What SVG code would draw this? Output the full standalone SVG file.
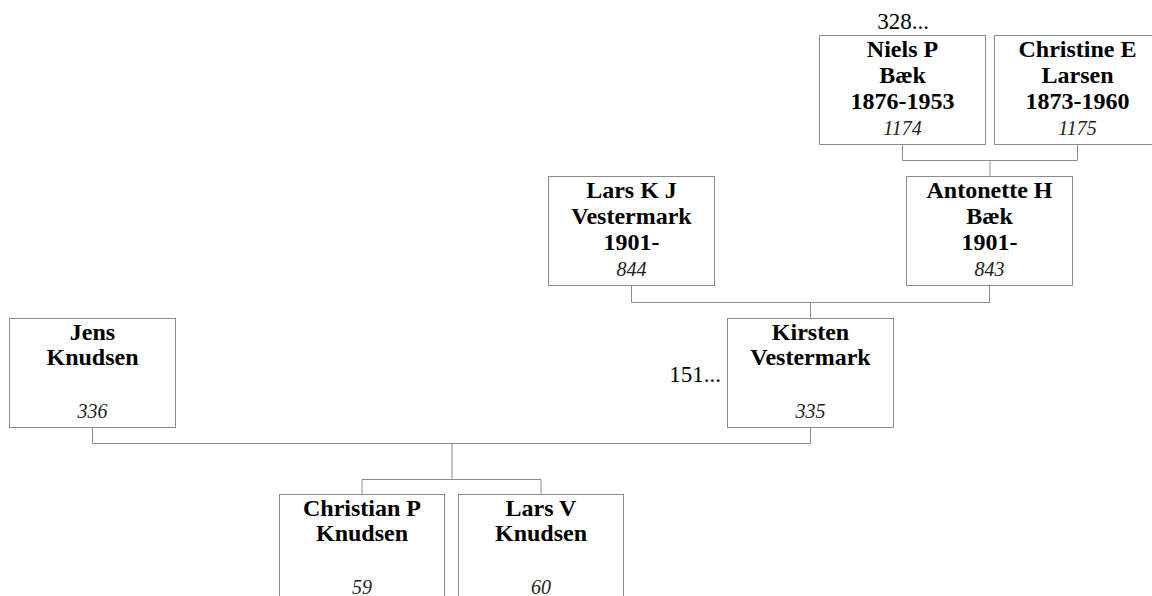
<svg xmlns="http://www.w3.org/2000/svg" width="1152" height="596" viewBox="0 0 1152 596">
<style>
.box{fill:#fff;stroke:#8c8c8c;stroke-width:1}
.con{fill:none;stroke:#8c8c8c;stroke-width:1}
.n{font-family:"Liberation Serif","Times New Roman",serif;font-weight:bold;font-size:24px;text-anchor:middle;fill:#000}
.id{font-family:"Liberation Serif","Times New Roman",serif;font-style:italic;font-size:20px;text-anchor:middle;fill:#222}
.ref{font-family:"Liberation Serif","Times New Roman",serif;font-size:23px;fill:#000}
</style>
<rect width="1152" height="596" fill="#fff"/>
<g id="connectors">
<path class="con" d="M902.5,144.5 V160.5 H1077.5 V144.5 M990,160.5 V176.5"/>
<path class="con" d="M631.5,285.5 V302.5 H989.5 V285.5 M810.5,302.5 V318.5"/>
<path class="con" d="M92.5,427.5 V443.5 H810.5 V427.5 M452,443.5 V479.5"/>
<path class="con" d="M362,494.5 V479.5 H541 V494.5"/>
</g>
<g id="niels">
<rect class="box" x="819.5" y="35.5" width="166" height="109"/>
<text class="ref" x="903" y="29" text-anchor="middle">328...</text>
<text class="n" x="902.5" y="57">Niels P</text>
<text class="n" x="902.5" y="83">Bæk</text>
<text class="n" x="902.5" y="109">1876-1953</text>
<text class="id" x="902.5" y="135">1174</text>
</g>
<g id="christine">
<rect class="box" x="994.5" y="35.5" width="166" height="109"/>
<text class="n" x="1077.5" y="57">Christine E</text>
<text class="n" x="1077.5" y="83">Larsen</text>
<text class="n" x="1077.5" y="109">1873-1960</text>
<text class="id" x="1077.5" y="135">1175</text>
</g>
<g id="larskj">
<rect class="box" x="548.5" y="176.5" width="166" height="109"/>
<text class="n" x="631.5" y="197.5">Lars K J</text>
<text class="n" x="631.5" y="223.5">Vestermark</text>
<text class="n" x="631.5" y="249.5">1901-</text>
<text class="id" x="631.5" y="275.5">844</text>
</g>
<g id="antonette">
<rect class="box" x="906.5" y="176.5" width="166" height="109"/>
<text class="n" x="989.5" y="197.5">Antonette H</text>
<text class="n" x="989.5" y="223.5">Bæk</text>
<text class="n" x="989.5" y="249.5">1901-</text>
<text class="id" x="989.5" y="275.5">843</text>
</g>
<g id="jens">
<rect class="box" x="9.5" y="318.5" width="166" height="109"/>
<text class="n" x="92.5" y="339.5">Jens</text>
<text class="n" x="92.5" y="365">Knudsen</text>
<text class="id" x="92.5" y="418">336</text>
</g>
<g id="kirsten">
<rect class="box" x="727.5" y="318.5" width="166" height="109"/>
<text class="ref" x="721" y="382" text-anchor="end">151...</text>
<text class="n" x="810.5" y="339.5">Kirsten</text>
<text class="n" x="810.5" y="365">Vestermark</text>
<text class="id" x="810.5" y="418">335</text>
</g>
<g id="christian">
<rect class="box" x="279.5" y="494.5" width="165" height="109"/>
<text class="n" x="362" y="515.5">Christian P</text>
<text class="n" x="362" y="541">Knudsen</text>
<text class="id" x="362" y="594">59</text>
</g>
<g id="larsv">
<rect class="box" x="458.5" y="494.5" width="165" height="109"/>
<text class="n" x="541" y="515.5">Lars V</text>
<text class="n" x="541" y="541">Knudsen</text>
<text class="id" x="541" y="594">60</text>
</g>
</svg>
